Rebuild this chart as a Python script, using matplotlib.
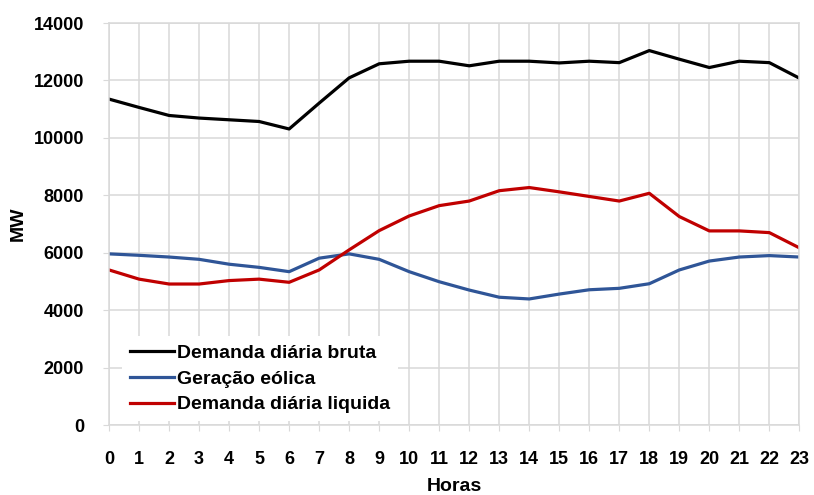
import numpy as np
import matplotlib.pyplot as plt

horas = list(range(24))
demanda_bruta = [11350, 11060, 10780, 10690, 10630, 10570, 10310, 11210, 12090, 12580,
                 12670, 12670, 12510, 12670, 12670, 12610, 12670, 12620, 13040, 12740,
                 12450, 12670, 12620, 12080]
geracao_eolica = [5960, 5910, 5850, 5770, 5600, 5490, 5340, 5810, 5960, 5770,
                  5340, 4990, 4700, 4450, 4390, 4560, 4710, 4760, 4920, 5400,
                  5710, 5850, 5900, 5850]
demanda_liquida = [5400, 5080, 4910, 4910, 5030, 5080, 4970, 5400, 6100, 6770,
                   7280, 7640, 7800, 8160, 8270, 8120, 7960, 7800, 8070, 7260,
                   6760, 6760, 6700, 6170]

plt.rcParams['font.family'] = ['Liberation Sans', 'DejaVu Sans']
plt.rcParams['font.weight'] = 'bold'

fig = plt.figure(figsize=(8.14, 4.95), dpi=100)
ax = fig.add_axes([0.134, 0.1414, 0.848, 0.8121])

ax.plot(horas, demanda_bruta, color='black', lw=2.3, label='Demanda diária bruta')
ax.plot(horas, geracao_eolica, color='#2f5597', lw=2.3, label='Geração eólica')
ax.plot(horas, demanda_liquida, color='#c00000', lw=2.3, label='Demanda diária liquida')

ax.set_xlim(0, 23)
ax.set_ylim(0, 14000)
ax.set_xticks(horas)
ax.set_yticks(np.arange(0, 14001, 2000))
ax.grid(True, color='#d9d9d9', lw=1.1)
ax.set_axisbelow(True)
for s in ax.spines.values():
    s.set_color('#d9d9d9')
    s.set_linewidth(1.1)
ax.tick_params(axis='both', colors='#d9d9d9', labelcolor='black', labelsize=13, length=4)
ax.tick_params(axis='x', pad=15)
ax.tick_params(axis='y', pad=14)
for lab in ax.get_xticklabels() + ax.get_yticklabels():
    lab.set_fontweight('bold')

ax.set_ylabel('MW', fontsize=14, fontweight='bold', labelpad=5)
ax.set_xlabel('Horas', fontsize=14, fontweight='bold', labelpad=7)

leg = ax.legend(loc='lower left', bbox_to_anchor=(0.013, 0.0), frameon=True, fontsize=14,
                handlelength=2.3, handletextpad=0.15, labelspacing=0.42, borderaxespad=0.2,
                fancybox=False)
leg.get_frame().set_edgecolor('none')
leg.get_frame().set_facecolor('white')
leg.get_frame().set_alpha(1)
for t in leg.get_texts():
    t.set_fontweight('bold')

plt.savefig('out.png', dpi=100, facecolor='white')
